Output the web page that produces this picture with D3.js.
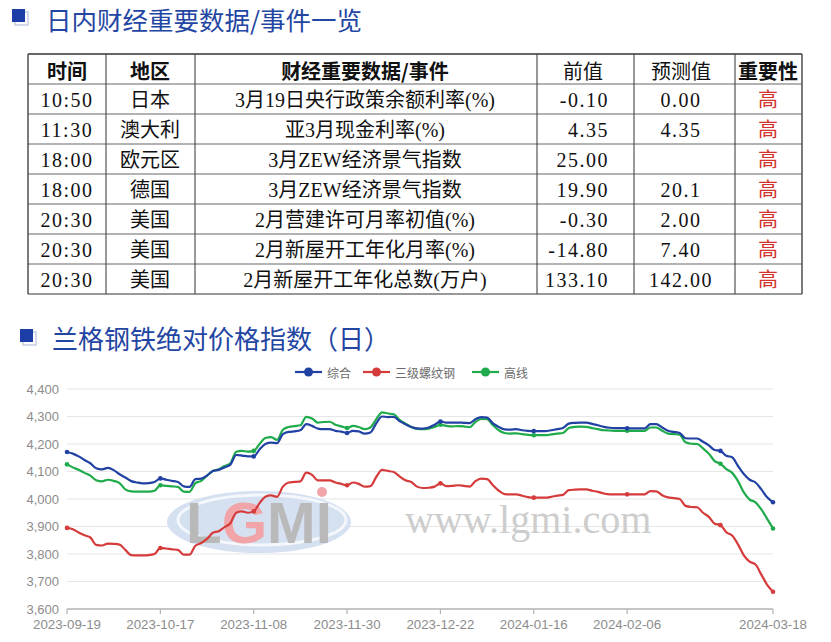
<!DOCTYPE html>
<html><head><meta charset="utf-8">
<script src="https://cdn.jsdelivr.net/npm/d3@7/dist/d3.min.js"></script>
<style>
html,body{margin:0;padding:0;background:#fff;}
svg{display:block;}
</style></head>
<body>
<svg id="c" width="831" height="642"></svg>
<script>
// ---------- table data ----------
const tableHeader = ['时间','地区','财经重要数据/事件','前值','预测值','重要性'];
const times = ['10:50','11:30','18:00','18:00','20:30','20:30','20:30'];
const regions = ['日本','澳大利','欧元区','德国','美国','美国','美国'];
const events = ['3月19日央行政策余额利率(%)','亚3月现金利率(%)','3月ZEW经济景气指数','3月ZEW经济景气指数','2月营建许可月率初值(%)','2月新屋开工年化月率(%)','2月新屋开工年化总数(万户)'];
const prevValues = ['-0.10','4.35','25.00','19.90','-0.30','-14.80','133.10'];
const forecasts = ['0.00','4.35','','20.1','2.00','7.40','142.00'];
const importance = ['高','高','高','高','高','高','高'];

// ---------- chart data ----------
const seriesNames = ['综合','三级螺纹钢','高线'];
const tickLabels = ['2023-09-19','2023-10-17','2023-11-08','2023-11-30','2023-12-22','2024-01-16','2024-02-06','2024-03-18'];
const tickIndex = [0,16,32,48,64,80,96,121];
const yTicks = [3600,3700,3800,3900,4000,4100,4200,4300,4400];
const zonghe = [4171,4165,4155,4142,4130,4112,4108,4113,4105,4090,4078,4065,4060,4057,4058,4062,4075,4070,4066,4062,4046,4044,4072,4074,4085,4102,4106,4115,4125,4160,4158,4155,4155,4180,4200,4205,4203,4236,4244,4246,4250,4272,4266,4256,4254,4254,4248,4245,4240,4248,4246,4238,4242,4275,4300,4298,4299,4283,4272,4262,4257,4256,4260,4270,4282,4278,4278,4278,4277,4276,4290,4298,4296,4275,4262,4253,4252,4254,4250,4248,4247,4247,4247,4250,4254,4258,4274,4277,4278,4278,4273,4268,4262,4259,4258,4258,4257,4257,4257,4257,4272,4272,4260,4248,4244,4240,4221,4220,4220,4208,4195,4178,4175,4157,4152,4120,4091,4070,4060,4035,4006,3988];
const luowen = [3895,3890,3878,3868,3860,3833,3831,3838,3837,3834,3815,3796,3795,3795,3796,3800,3822,3820,3817,3815,3798,3798,3830,3840,3855,3877,3883,3898,3912,3950,3955,3950,3955,3985,4008,4013,4008,4045,4060,4062,4064,4096,4088,4068,4068,4068,4060,4055,4050,4060,4055,4045,4047,4080,4106,4102,4098,4082,4068,4062,4045,4040,4041,4045,4057,4047,4048,4050,4048,4045,4065,4074,4072,4050,4030,4018,4017,4017,4012,4007,4005,4005,4005,4008,4012,4015,4032,4034,4035,4035,4030,4026,4020,4017,4017,4017,4017,4017,4017,4017,4029,4028,4014,4006,4003,4000,3975,3971,3970,3950,3935,3910,3905,3879,3867,3835,3795,3772,3762,3725,3688,3663];
const gaoxian = [4126,4115,4106,4095,4085,4068,4064,4070,4066,4058,4035,4028,4027,4027,4027,4030,4050,4048,4046,4044,4027,4026,4058,4066,4085,4102,4108,4120,4130,4172,4175,4172,4175,4200,4222,4225,4215,4252,4262,4265,4268,4299,4293,4278,4280,4281,4270,4264,4258,4266,4262,4254,4260,4290,4315,4311,4308,4288,4274,4262,4255,4254,4256,4262,4270,4266,4264,4265,4264,4261,4280,4291,4290,4268,4250,4240,4238,4239,4236,4233,4232,4232,4232,4235,4238,4240,4258,4262,4263,4262,4258,4254,4250,4249,4248,4248,4248,4248,4248,4248,4260,4260,4248,4238,4236,4234,4206,4201,4200,4184,4165,4138,4128,4109,4095,4065,4024,3998,3988,3962,3928,3893];
const markerIndex = [0,16,32,48,64,80,96,112,121];

const svg = d3.select('#c');
const BLUE_T = '#2446a3';

// ---------- titles ----------
function titleIcon(x, y) {
  svg.append('rect').attr('x', x+3).attr('y', y+3).attr('width', 13).attr('height', 13)
    .attr('fill', 'none').attr('stroke', '#b7c2dc').attr('stroke-width', 1.2);
  svg.append('rect').attr('x', x).attr('y', y).attr('width', 13).attr('height', 13).attr('fill', '#1d3ea6');
}
titleIcon(12, 9);
svg.append('text').attr('x', 46).attr('y', 29.5).attr('font-family', '"Noto Sans CJK SC", sans-serif')
  .attr('font-size', 25.5).attr('fill', BLUE_T).text('日内财经重要数据/事件一览');
titleIcon(20, 329);
svg.append('text').attr('x', 52).attr('y', 349).attr('font-family', '"Noto Sans CJK SC", sans-serif')
  .attr('font-size', 26).attr('fill', BLUE_T).text('兰格钢铁绝对价格指数（日）');

// ---------- table ----------
const colX = [28,106,195,537,634,735,802];
const rowY = [54,84,114,144,174,204,234,264,294];
const colCenter = [67,150,365,583,681,768];
const tg = svg.append('g');
rowY.forEach((y, i) => {
  tg.append('line').attr('x1', colX[0]).attr('x2', colX[colX.length-1]).attr('y1', y).attr('y2', y)
    .attr('stroke', (i === 0 || i === rowY.length-1) ? '#333' : '#666').attr('stroke-width', i === 0 ? 1.4 : 1);
});
colX.forEach((x, i) => {
  tg.append('line').attr('x1', x).attr('x2', x).attr('y1', rowY[0]).attr('y2', rowY[rowY.length-1])
    .attr('stroke', '#444').attr('stroke-width', (i === 0 || i === colX.length-1) ? 1.4 : 1.1);
});
const tFont = '"Liberation Serif", "Noto Sans CJK SC", serif';
tableHeader.forEach((h, j) => {
  tg.append('text').attr('x', colCenter[j]).attr('y', (rowY[0]+rowY[1])/2 + 1)
    .attr('text-anchor', 'middle').attr('dominant-baseline', 'central')
    .attr('font-family', '"Noto Sans CJK SC", sans-serif').attr('font-weight', j === 3 || j === 4 ? 'normal' : 'bold')
    .attr('font-size', 20).attr('fill', '#111').text(h);
});
const cols = [times, regions, events, prevValues, forecasts, importance];
cols.forEach((arr, j) => {
  arr.forEach((v, i) => {
    const rightAlign = (j === 3);
    tg.append('text').attr('x', rightAlign ? 609 : colCenter[j]).attr('y', (rowY[i+1]+rowY[i+2])/2 + 1)
      .attr('text-anchor', rightAlign ? 'end' : 'middle').attr('dominant-baseline', 'central')
      .attr('font-family', tFont).attr('font-size', 20)
      .attr('letter-spacing', (j === 0 || j === 3 || j === 4) ? 1.5 : 0)
      .attr('fill', j === 5 ? '#d3322c' : '#111').text(v);
  });
});

// ---------- chart ----------
const x = d3.scaleLinear().domain([0, 121]).range([67, 773]);
const y = d3.scaleLinear().domain([3600, 4400]).range([609, 389]);
const cg = svg.append('g');

// grid
cg.selectAll('line.grid').data(yTicks.slice(1)).join('line')
  .attr('x1', x(0)).attr('x2', x(121)).attr('y1', d => y(d)).attr('y2', d => y(d))
  .attr('stroke', '#e6e6e6').attr('stroke-width', 1);

// watermark
const wm = cg.append('g');
wm.append('ellipse').attr('cx', 259).attr('cy', 522).attr('rx', 92).attr('ry', 31)
  .attr('fill', '#d0ddef').attr('opacity', 0.9);
wm.append('ellipse').attr('cx', 262).attr('cy', 520).attr('rx', 84).attr('ry', 25)
  .attr('fill', 'none').attr('stroke', '#f4f7fb').attr('stroke-width', 3);
const wt = wm.append('text').attr('x', 186).attr('y', 543)
  .attr('font-family', '"Liberation Sans", sans-serif').attr('font-weight', 'bold')
  .attr('font-size', 58).attr('textLength', 146).attr('lengthAdjust', 'spacingAndGlyphs');
wt.append('tspan').attr('fill', '#b9b9b9').text('L');
wt.append('tspan').attr('fill', '#f2a5a8').text('G');
wt.append('tspan').attr('fill', '#b9b9b9').text('MI');
wm.append('circle').attr('cx', 322).attr('cy', 492).attr('r', 5).attr('fill', '#f2a5a8');
wm.append('text').attr('x', 405).attr('y', 533).attr('font-family', '"Liberation Serif", serif')
  .attr('font-size', 40).attr('fill', '#cdcdcd').text('www.lgmi.com');

// axis line and ticks
cg.append('line').attr('x1', x(0)).attr('x2', x(121)).attr('y1', y(3600)).attr('y2', y(3600))
  .attr('stroke', '#b3b3b3').attr('stroke-width', 1.5);
cg.selectAll('line.tick').data(tickIndex).join('line')
  .attr('x1', d => x(d)).attr('x2', d => x(d)).attr('y1', y(3600)).attr('y2', y(3600) + 5)
  .attr('stroke', '#b3b3b3').attr('stroke-width', 1.2);
cg.selectAll('text.xl').data(tickLabels).join('text')
  .attr('x', (d, i) => x(tickIndex[i])).attr('y', 629).attr('text-anchor', 'middle')
  .attr('font-family', '"Liberation Sans", sans-serif').attr('font-size', 13.3).attr('fill', '#8c8c8c').text(d => d);
cg.selectAll('text.yl').data(yTicks).join('text')
  .attr('x', 59).attr('y', d => y(d)).attr('text-anchor', 'end').attr('dominant-baseline', 'central')
  .attr('font-family', '"Liberation Sans", sans-serif').attr('font-size', 13).attr('fill', '#8c8c8c')
  .text(d => d3.format(',')(d));

// lines
const series = [
  {name: seriesNames[0], values: zonghe, color: '#2141a3'},
  {name: seriesNames[1], values: luowen, color: '#d63b3b'},
  {name: seriesNames[2], values: gaoxian, color: '#1faa4b'}
];
const line = d3.line().x((d, i) => x(i)).y(d => y(d)).curve(d3.curveMonotoneX);
[series[1], series[2], series[0]].forEach(s => {
  cg.append('path').attr('d', line(s.values)).attr('fill', 'none')
    .attr('stroke', s.color).attr('stroke-width', 2.2).attr('stroke-linejoin', 'round');
  cg.selectAll(null).data(markerIndex).join('circle')
    .attr('cx', d => x(d)).attr('cy', d => y(s.values[d])).attr('r', 2.3).attr('fill', s.color);
});

// legend
const legendX = [295, 363, 472];
const lg = svg.append('g');
series.forEach((s, i) => {
  const lx = legendX[i], ly = 372;
  lg.append('line').attr('x1', lx).attr('x2', lx + 27).attr('y1', ly).attr('y2', ly)
    .attr('stroke', s.color).attr('stroke-width', 2.2);
  lg.append('circle').attr('cx', lx + 13.5).attr('cy', ly).attr('r', 4.5).attr('fill', s.color);
  lg.append('text').attr('x', lx + 32).attr('y', ly).attr('dominant-baseline', 'central')
    .attr('font-family', '"Noto Sans CJK SC", sans-serif').attr('font-size', 12).attr('fill', '#6b6b6b')
    .text(s.name);
});
</script>
</body></html>
